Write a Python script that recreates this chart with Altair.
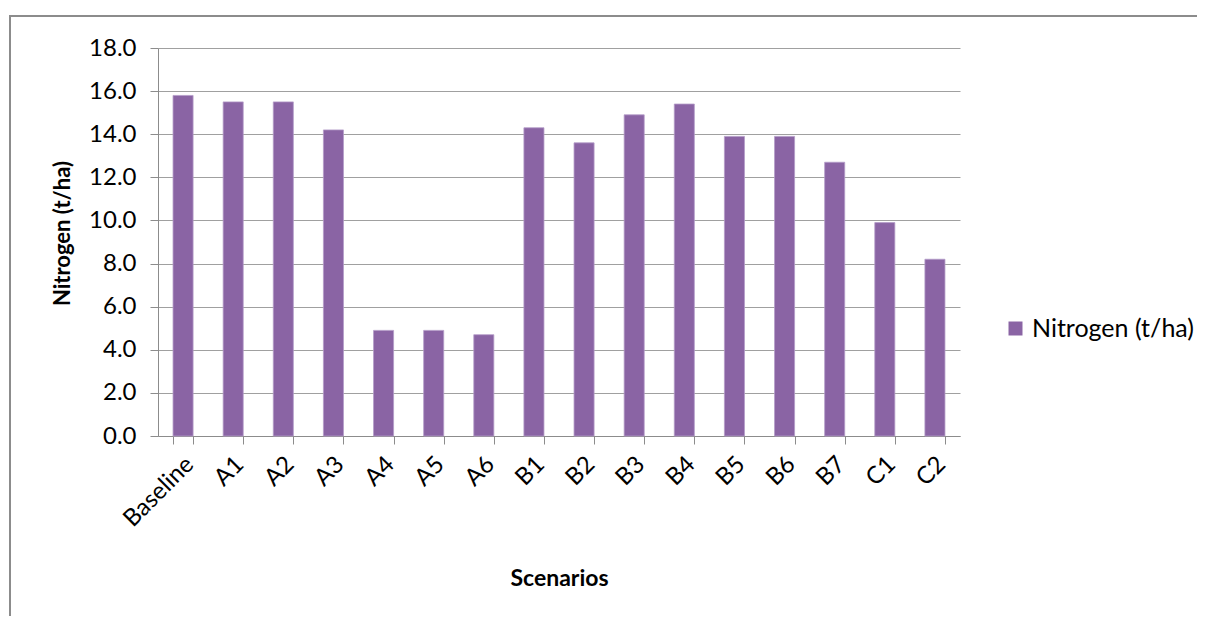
import altair as alt
import pandas as pd

scenarios = ["Baseline", "A1", "A2", "A3", "A4", "A5", "A6", "B1", "B2", "B3",
             "B4", "B5", "B6", "B7", "C1", "C2"]
nitrogen = [15.8, 15.5, 15.5, 14.2, 4.9, 4.9, 4.7, 14.3, 13.6, 14.9,
            15.4, 13.9, 13.9, 12.7, 9.9, 8.2]
series_name = "Nitrogen (t/ha)"
y_ticks = [0, 2, 4, 6, 8, 10, 12, 14, 16, 18]

df = pd.DataFrame({"Scenario": scenarios, "Value": nitrogen,
                   "Series": [series_name] * len(scenarios)})

FONT = "Lato"
GRAY = "#8C8C8C"

bars = alt.Chart(df).mark_bar(
    stroke="#B49CC8", strokeWidth=0.8
).encode(
    x=alt.X("Scenario:N", sort=scenarios,
            scale=alt.Scale(paddingInner=0.6, paddingOuter=0.3),
            axis=alt.Axis(title="Scenarios", labelAngle=-45, tickBand="extent",
                          tickSize=8, labelPadding=8, labelOffset=-2,
                          labelFontSize=24, labelFont=FONT, labelColor="#000000",
                          titleFontSize=23, titleFont=FONT, titleFontWeight="bold",
                          titleColor="#000000", titleY=142, titleBaseline="middle",
                          domainColor=GRAY, tickColor=GRAY)),
    y=alt.Y("Value:Q", scale=alt.Scale(domain=[0, 18], nice=False),
            axis=alt.Axis(title="Nitrogen (t/ha)", values=y_ticks, format=".1f",
                          tickSize=8, labelPadding=14, grid=True,
                          gridColor="#A0A0A0", gridWidth=1.2,
                          labelFontSize=24, labelFont=FONT, labelColor="#000000",
                          titleFontSize=22, titleFont=FONT, titleFontWeight="bold",
                          titleColor="#000000", titleX=-96, titleY=185,
                          titleBaseline="middle",
                          domainColor=GRAY, tickColor=GRAY)),
    color=alt.Color("Series:N", scale=alt.Scale(range=["#8A64A4"]),
                    legend=alt.Legend(title=None, orient="none", legendX=845, legendY=268,
                                      symbolType="square", symbolSize=196,
                                      symbolStrokeWidth=0, labelLimit=400,
                                      labelFontSize=25, labelFont=FONT,
                                      labelColor="#000000", padding=0)),
)

border = alt.Chart(pd.DataFrame({"k": [0]})).mark_rect(
    fill=None, stroke="#8C8C8C", strokeWidth=2
).encode(
    x=alt.value(-148), x2=alt.value(1100),
    y=alt.value(-32), y2=alt.value(620),
)

chart = alt.layer(border, bars).properties(
    width=802, height=388,
    padding={"left": 150, "top": 40, "right": 237, "bottom": 180},
    autosize=alt.AutoSizeParams(type="none"),
    background="white",
).configure_view(stroke=None)

chart.save("out.html", embed_options={"renderer": "svg", "actions": False})
